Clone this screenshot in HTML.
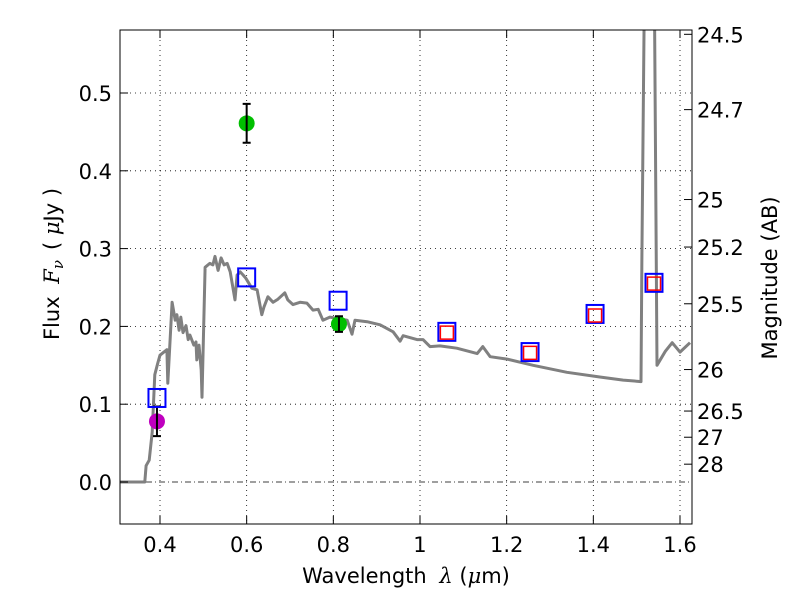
<!DOCTYPE html>
<html><head><meta charset="utf-8"><style>
body{margin:0;background:#fff}
svg text{font-family:"DejaVu Sans","Liberation Sans",sans-serif;fill:#000}
</style></head><body>
<svg id="c" width="800" height="600" xmlns="http://www.w3.org/2000/svg">
<rect width="800" height="600" fill="#fff"/>
<g id="grid"></g>
<line x1="120" y1="482" x2="692" y2="482" stroke="#000" stroke-width="0.8" stroke-dasharray="6,3,1,3"/>
<clipPath id="cp"><rect x="120" y="30" width="572" height="494"/></clipPath>
<g clip-path="url(#cp)"><path id="spec" fill="none" stroke="#808080" stroke-width="3" stroke-linejoin="round"/></g>
<g id="marks"></g>
<rect x="120" y="30" width="572" height="494" fill="none" stroke="#000" stroke-width="1"/>
<g id="ticks"></g>
<text x="406" y="583" font-size="21" text-anchor="middle">Wavelength <tspan dx="6" font-family="DejaVu Serif" font-style="italic">λ</tspan> (<tspan font-family="DejaVu Serif" font-style="italic">μ</tspan>m)</text>
<text transform="translate(59,264) rotate(-90)" font-size="21" text-anchor="middle">Flux <tspan dx="6" font-family="DejaVu Serif" font-style="italic">F<tspan font-size="15" dy="4">ν</tspan></tspan><tspan dx="10" dy="-4">( </tspan><tspan font-family="DejaVu Serif" font-style="italic">μ</tspan>Jy )</text>
<text transform="translate(777,278) rotate(-90)" font-size="21" text-anchor="middle">Magnitude (AB)</text>
</svg>
<script>
const specLam=[0.308,0.365,0.368,0.375,0.382,0.388,0.395,0.400,0.409,0.416,0.418,0.428,0.435,0.439,0.444,0.448,0.453,0.460,0.465,0.469,0.478,0.483,0.485,0.490,0.495,0.497,0.504,0.515,0.522,0.527,0.534,0.541,0.548,0.555,0.562,0.573,0.578,0.585,0.592,0.598,0.612,0.624,0.635,0.640,0.649,0.661,0.672,0.688,0.695,0.707,0.723,0.739,0.753,0.765,0.776,0.792,0.832,0.843,0.850,0.878,0.908,0.938,0.954,0.961,0.993,1.007,1.023,1.046,1.085,1.132,1.145,1.162,1.201,1.261,1.339,1.415,1.469,1.510,1.512,1.519,1.540,1.547,1.566,1.582,1.600,1.623];
const specFlux=[0,0,0.021,0.028,0.064,0.138,0.153,0.163,0.167,0.170,0.127,0.231,0.208,0.215,0.195,0.212,0.192,0.201,0.183,0.189,0.176,0.180,0.157,0.176,0.144,0.109,0.276,0.281,0.279,0.290,0.272,0.288,0.279,0.281,0.270,0.234,0.266,0.270,0.266,0.262,0.249,0.247,0.215,0.225,0.238,0.231,0.235,0.243,0.234,0.228,0.231,0.230,0.221,0.222,0.208,0.212,0.208,0.190,0.208,0.206,0.202,0.193,0.181,0.188,0.183,0.183,0.174,0.175,0.172,0.165,0.174,0.161,0.158,0.150,0.141,0.135,0.131,0.129,0.29,0.7,0.7,0.150,0.168,0.179,0.167,0.179];
const obsLam=[0.393,0.600,0.813];
const obsFlux=[0.078,0.461,0.203];
const obsErr=[0.019,0.025,0.010];
const obsColor=['#bf00bf','#00bf00','#00bf00'];
const modLam=[0.393,0.600,0.811,1.062,1.254,1.404,1.540];
const modFlux=[0.108,0.263,0.233,0.193,0.167,0.216,0.256];
const redLam=[1.062,1.254,1.404,1.540];
const redFlux=[0.192,0.166,0.214,0.255];
const xTicks=[0.4,0.6,0.8,1.0,1.2,1.4,1.6];
const xTickLabels=['0.4','0.6','0.8','1','1.2','1.4','1.6'];
const yTicks=[0,0.1,0.2,0.3,0.4,0.5];
const yTickLabels=['0.0','0.1','0.2','0.3','0.4','0.5'];
const magTicks=[24.5,24.7,25,25.2,25.5,26,26.5,27,28];
const magTickLabels=['24.5','24.7','25','25.2','25.5','26','26.5','27','28'];

const X=v=>160+(v-0.4)*433.33;
const Y=v=>482-v*778;
const M=m=>Y(Math.pow(10,(23.9-m)/2.5));
const NS='http://www.w3.org/2000/svg';
function mk(tag,parent,attrs){const e=document.createElementNS(NS,tag);for(const k in attrs)e.setAttribute(k,attrs[k]);parent.appendChild(e);return e;}
const grid=document.getElementById('grid'),ticks=document.getElementById('ticks'),marks=document.getElementById('marks');

xTicks.forEach((t,i)=>{const x=X(t);
 let g=mk('line',grid,{x1:x,x2:x,y1:30,y2:524,stroke:'#000','stroke-width':0.8,'stroke-dasharray':'1,4'});
 
 
 let a=mk('line',ticks,{x1:x,x2:x,y1:524,y2:516,stroke:'#000'});
 
 
 let b=mk('line',ticks,{x1:x,x2:x,y1:30,y2:38,stroke:'#000'});
 
 
 let l=mk('text',ticks,{x:x,y:552,'font-size':21,'text-anchor':'middle'});l.textContent=xTickLabels[i];
 
 
});
yTicks.forEach((t,i)=>{const y=Y(t);
 if(t!==0){let g=mk('line',grid,{x1:120,x2:692,y1:y,y2:y,stroke:'#000','stroke-width':0.8,'stroke-dasharray':'1,4'});
 
 }
 let a=mk('line',ticks,{x1:120,x2:128,y1:y,y2:y,stroke:'#000'});
 
 
 let l=mk('text',ticks,{x:112,y:y+8,'font-size':21,'text-anchor':'end'});l.textContent=yTickLabels[i];
 
 
});
magTicks.forEach((m,i)=>{const y=M(m);
 let a=mk('line',ticks,{x1:684,x2:692,y1:y,y2:y,stroke:'#000'});
 
 
 let l=mk('text',ticks,{x:697,y:y+8,'font-size':21});l.textContent=magTickLabels[i];
 
 
});
document.getElementById('spec').setAttribute('d',specLam.map((l,i)=>(i?'L':'M')+X(l).toFixed(1)+','+Y(specFlux[i]).toFixed(1)).join(''));
obsLam.forEach((l,i)=>{const x=X(l),y=Y(obsFlux[i]),y1=Y(obsFlux[i]+obsErr[i]),y2=Y(obsFlux[i]-obsErr[i]);
 let c=mk('circle',marks,{cx:x,cy:y,r:8,fill:obsColor[i]});
 
 
 let e=mk('path',marks,{d:`M${x},${y1}V${y2}M${x-4},${y1}H${x+4}M${x-4},${y2}H${x+4}`,stroke:'#000','stroke-width':2,fill:'none'});
 
 
});
modLam.forEach((l,i)=>{const x=X(l),y=Y(modFlux[i]);
 let r=mk('rect',marks,{x:x-8.5,y:y-9,width:17,height:18,fill:'none',stroke:'#0000ff','stroke-width':2});
 
 
});
redLam.forEach((l,i)=>{const x=X(l),y=Y(redFlux[i]);
 let r=mk('rect',marks,{x:x-6.5,y:y-6.5,width:13,height:13,fill:'none',stroke:'#ff0000','stroke-width':1.5});
 
 
});
</script>
</body></html>
